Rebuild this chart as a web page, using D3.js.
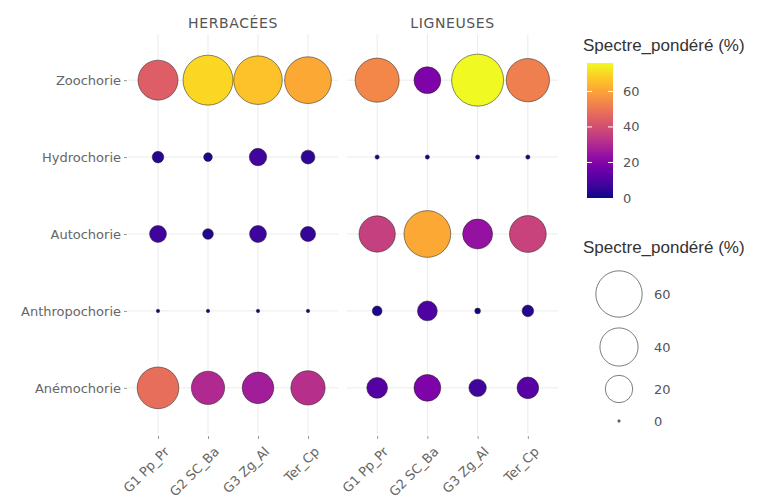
<!DOCTYPE html>
<html>
<head>
<meta charset="utf-8">
<script src="https://cdn.jsdelivr.net/npm/d3@7"></script>
<style>
  html, body { margin: 0; padding: 0; background: #fff; }
  svg { display: block; font-family: "DejaVu Sans", sans-serif; }
</style>
</head>
<body>
<svg id="chart" width="768" height="501"></svg>
<script>
// Dispersal modes (rows, top to bottom) and sites (columns within each panel)
const modes = ["Zoochorie", "Hydrochorie", "Autochorie", "Anthropochorie", "Anémochorie"];
const sites = ["G1 Pp_Pr", "G2 SC_Ba", "G3 Zg_Al", "Ter_Cp"];
const groups = ["HERBACÉES", "LIGNEUSES"];

// Weighted spectrum (%) per mode, one value per site
const herbacees = {
  "Zoochorie":      [44, 70, 66, 61],
  "Hydrochorie":    [3, 1.5, 7.5, 4.5],
  "Autochorie":     [7, 2.5, 7, 5.5],
  "Anthropochorie": [0.1, 0.1, 0.1, 0.1],
  "Anémochorie":    [48, 30, 27, 32]
};
const ligneuses = {
  "Zoochorie":      [54, 19, 76, 52],
  "Hydrochorie":    [0.2, 0.2, 0.2, 0.2],
  "Autochorie":     [36, 61, 24, 37],
  "Anthropochorie": [2, 10, 0.5, 3],
  "Anémochorie":    [11, 19, 7.5, 12]
};

const colourTicks = [0, 20, 40, 60];
const sizeTicks = [60, 40, 20, 0];

const svg = d3.select("#chart");
const textCol = "#666";
const axisFont = "DejaVu Sans, sans-serif";

const panels = [
  { name: groups[0], values: herbacees, x0: 128, x1: 338 },
  { name: groups[1], values: ligneuses, x0: 347, x1: 558 }
];

const allVals = panels.flatMap(p => modes.flatMap(m => p.values[m]));
const vMax = d3.max(allVals);

const y = d3.scalePoint().domain(modes).range([34, 434]).padding(0.6);
const colour = d3.scaleSequential(d3.interpolatePlasma).domain([0, vMax]);
const radius = d3.scaleSqrt().domain([0, vMax]).range([0.8, 26]);

panels.forEach((p, pi) => {
  const x = d3.scalePoint().domain(sites).range([p.x0, p.x1]).padding(0.6);
  const g = svg.append("g");

  // grid
  g.selectAll("line.gx").data(sites).join("line")
    .attr("x1", d => x(d)).attr("x2", d => x(d))
    .attr("y1", 34).attr("y2", 434)
    .attr("stroke", "#ebebeb").attr("stroke-width", 1);
  g.selectAll("line.gy").data(modes).join("line")
    .attr("x1", p.x0).attr("x2", p.x1)
    .attr("y1", d => y(d)).attr("y2", d => y(d))
    .attr("stroke", "#ebebeb").attr("stroke-width", 1);

  // strip label
  g.append("text")
    .attr("x", (p.x0 + p.x1) / 2).attr("y", 28)
    .attr("text-anchor", "middle")
    .attr("font-size", 14).attr("letter-spacing", 0.6)
    .attr("fill", "#555")
    .text(p.name);

  // x axis
  const xAxis = d3.axisBottom(x).tickSize(3).tickPadding(3);
  const ax = g.append("g").attr("transform", "translate(0,436)").call(xAxis);
  ax.select(".domain").remove();
  ax.selectAll(".tick line").attr("stroke", "#999");
  ax.selectAll(".tick text")
    .attr("font-size", 13).attr("fill", textCol)
    .attr("font-family", axisFont)
    .attr("text-anchor", "end")
    .attr("dy", "0.35em")
    .attr("transform", "translate(4,9) rotate(-45)");

  // y axis on the first panel only
  if (pi === 0) {
    const yAxis = d3.axisLeft(y).tickSize(3).tickPadding(3);
    const ay = g.append("g").attr("transform", `translate(${p.x0 - 1},0)`).call(yAxis);
    ay.select(".domain").remove();
    ay.selectAll(".tick line").attr("stroke", "#999");
    ay.selectAll(".tick text")
      .attr("font-size", 13).attr("fill", textCol)
      .attr("font-family", axisFont);
  }

  // points
  const pts = modes.flatMap(m => sites.map((s, i) => ({ mode: m, site: s, v: p.values[m][i] })));
  pts.sort((a, b) => b.v - a.v);
  g.selectAll("circle.pt").data(pts).join("circle")
    .attr("cx", d => x(d.site))
    .attr("cy", d => y(d.mode))
    .attr("r", d => radius(d.v))
    .attr("fill", d => colour(d.v))
    .attr("stroke", "#222")
    .attr("stroke-opacity", 0.75)
    .attr("stroke-width", 0.7);
});

// Colour legend
const leg = svg.append("g");
leg.append("text").attr("x", 583).attr("y", 51)
  .attr("font-family", "Liberation Sans, Arial, sans-serif")
  .attr("font-size", 17).attr("fill", "#333").text("Spectre_pondéré (%)");

const barTop = 63, barBot = 198, barX = 587, barW = 26;
const cy = d3.scaleLinear().domain([0, vMax]).range([barBot, barTop]);
const defs = svg.append("defs");
const grad = defs.append("linearGradient").attr("id", "plasmaGrad")
  .attr("x1", 0).attr("y1", 1).attr("x2", 0).attr("y2", 0);
d3.range(0, 1.0001, 0.05).forEach(t => {
  grad.append("stop").attr("offset", t).attr("stop-color", d3.interpolatePlasma(t));
});
leg.append("rect").attr("x", barX).attr("y", barTop)
  .attr("width", barW).attr("height", barBot - barTop)
  .attr("fill", "url(#plasmaGrad)");
colourTicks.forEach(t => {
  if (t > 0) {
    leg.append("line").attr("x1", barX).attr("x2", barX + 5)
      .attr("y1", cy(t)).attr("y2", cy(t)).attr("stroke", "#fff").attr("stroke-width", 1);
    leg.append("line").attr("x1", barX + barW - 5).attr("x2", barX + barW)
      .attr("y1", cy(t)).attr("y2", cy(t)).attr("stroke", "#fff").attr("stroke-width", 1);
  }
  leg.append("text").attr("x", 623).attr("y", cy(t)).attr("dy", "0.35em")
    .attr("font-size", 13).attr("fill", "#555").text(t);
});

// Size legend
leg.append("text").attr("x", 583).attr("y", 253)
  .attr("font-family", "Liberation Sans, Arial, sans-serif")
  .attr("font-size", 17).attr("fill", "#333").text("Spectre_pondéré (%)");
const sizeY = { 60: 294, 40: 347, 20: 389, 0: 421 };
sizeTicks.forEach(t => {
  leg.append("circle").attr("cx", 619).attr("cy", sizeY[t])
    .attr("r", Math.max(radius(t), 1.2))
    .attr("fill", t === 0 ? "#777" : "#fff")
    .attr("stroke", "#444").attr("stroke-width", 0.7);
  leg.append("text").attr("x", 654).attr("y", sizeY[t]).attr("dy", "0.35em")
    .attr("font-size", 13).attr("fill", "#555").text(t);
});
</script>
</body>
</html>
